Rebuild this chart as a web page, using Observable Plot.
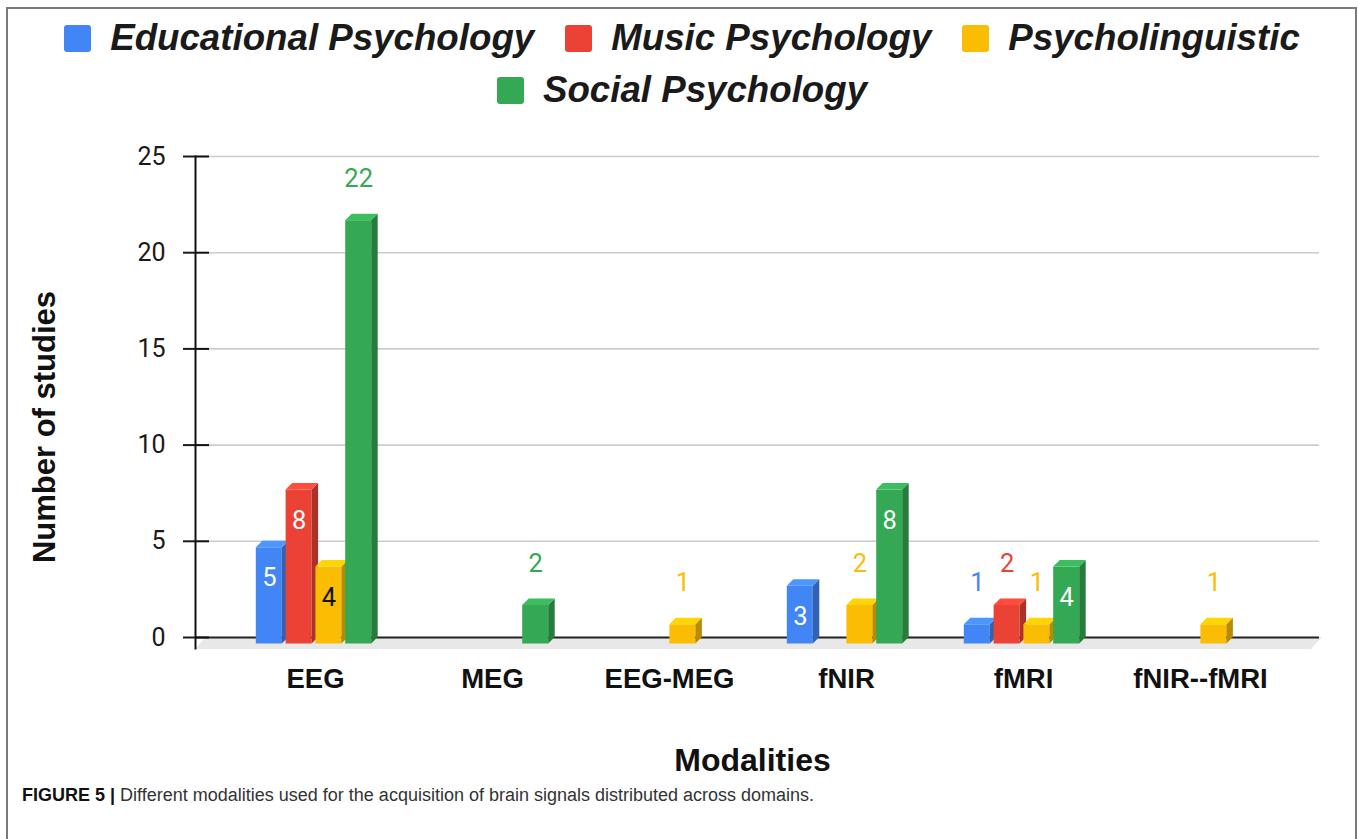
<!DOCTYPE html>
<html>
<head>
<meta charset="utf-8">
<script src="https://cdn.jsdelivr.net/npm/d3@7"></script>
<script src="https://cdn.jsdelivr.net/npm/@observablehq/plot@0.6"></script>
<style>
  body { margin: 0; background: #fff; }
  #wrap { position: relative; width: 1358px; height: 839px; overflow: hidden; font-family: "Liberation Sans", Arial, sans-serif; }
  #border { position: absolute; left: 6px; top: 7px; width: 1351px; height: 900px; border: 2px solid #7a7a7a; box-sizing: border-box; }
  #legend { position: absolute; left: 8px; top: 12px; width: 1348px; }
  .row { display: flex; justify-content: center; align-items: center; height: 52px; }
  .item { display: flex; align-items: center; margin: 0 15.5px; }
  .sw { width: 27px; height: 27px; border-radius: 3px; margin-right: 19px; }
  .lab { font-size: 36.7px; font-weight: bold; font-style: italic; color: #1a1a1a; line-height: 52px; white-space: nowrap; }
  #chart { position: absolute; left: 0; top: 120px; }
  #caption { position: absolute; left: 22px; top: 785px; font-size: 18px; color: #333; white-space: nowrap; }
  #caption b { color: #111; }
</style>
</head>
<body>
<div id="wrap">
  <div id="border"></div>
  <div id="legend"></div>
  <div id="chart"></div>
  <div id="caption"><b>FIGURE 5 |</b> Different modalities used for the acquisition of brain signals distributed across domains.</div>
</div>
<script>
const categories = ["EEG", "MEG", "EEG-MEG", "fNIR", "fMRI", "fNIR--fMRI"];
const seriesNames = ["Educational Psychology", "Music Psychology", "Psycholinguistic", "Social Psychology"];
const educational = [5, 0, 0, 3, 1, 0];
const music = [8, 0, 0, 0, 2, 0];
const psycholinguistic = [4, 0, 1, 2, 1, 1];
const social = [22, 2, 0, 8, 4, 0];
const colors = ["#4285F4", "#EA4335", "#FBBC04", "#34A853"];
const yTicks = [0, 5, 10, 15, 20, 25];

const seriesValues = [educational, music, psycholinguistic, social];

// legend (HTML, above the SVG)
const rows = [[0, 1, 2], [3]];
const legend = document.getElementById("legend");
rows.forEach(r => {
  const row = document.createElement("div");
  row.className = "row";
  r.forEach(i => {
    const it = document.createElement("div");
    it.className = "item";
    it.innerHTML = `<div class="sw" style="background:${colors[i]}"></div><div class="lab">${seriesNames[i]}</div>`;
    row.appendChild(it);
  });
  legend.appendChild(row);
});

const D = 6.5;      // depth of the 3D effect
const slot = 29.8;  // distance between bars in a group
const inside = v => v >= 3 && v < 20;

const marks = [
  Plot.ruleY(yTicks.filter(t => t > 0), {stroke: "#cccccc", strokeWidth: 1.6}),
  Plot.ruleY([0], {stroke: "#222", strokeWidth: 2}),
  Plot.frame({anchor: "left", stroke: "#111", strokeWidth: 2, insetBottom: -11}),
  Plot.axisY({ticks: yTicks, tickSize: 12, tickPadding: 18, fontSize: 25, fontFamily: "Roboto", color: "#1a1a1a", strokeWidth: 2, label: null}),
  Plot.tickY(yTicks, {y: d => d, insetRight: 1110, stroke: "#111", strokeWidth: 2})
];

const data = seriesValues.map((vals, i) =>
  categories.map((c, j) => ({cat: c, v: vals[j], s: i})).filter(d => d.v > 0)
);

data.forEach((rows, i) => {
  const off = (i - 1.5) * slot - 1.5;
  marks.push(Plot.barY(rows, {x: "cat", y1: 0, y2: "v", fill: colors[i], dx: off, dy: D}));
});
data.forEach((rows, i) => {
  const off = (i - 1.5) * slot - 1.5;
  marks.push(Plot.text(rows.filter(d => inside(d.v)), {
    x: "cat", y: "v", text: d => String(d.v), dx: off, dy: 37,
    fill: i === 2 ? "#111" : "#ffffff", fontSize: 25.5, fontFamily: "Roboto"
  }));
  marks.push(Plot.text(rows.filter(d => !inside(d.v)), {
    x: "cat", y: "v", text: d => String(d.v), dx: off, dy: -35.5,
    fill: colors[i], fontSize: 25.5, fontFamily: "Roboto"
  }));
});

marks.push(Plot.text(categories, {x: d => d, frameAnchor: "bottom", dy: 50, fontSize: 27.5, fontWeight: "bold", fontFamily: "Liberation Sans", fill: "#111"}));
marks.push(Plot.text(["Modalities"], {frameAnchor: "bottom", dx: -5, dy: 133, fontSize: 32, fontWeight: "bold", fontFamily: "Liberation Sans", fill: "#111"}));
marks.push(Plot.text(["Number of studies"], {frameAnchor: "left", textAnchor: "middle", rotate: -90, dx: -150, dy: 30, fontSize: 31, fontWeight: "bold", fontFamily: "Liberation Sans", fill: "#111"}));

const plot = Plot.plot({
  width: 1358,
  height: 660,
  marginLeft: 195,
  marginRight: 39,
  marginTop: 36,
  marginBottom: 143,
  style: {fontFamily: "Roboto", background: "transparent", overflow: "visible"},
  x: {type: "band", domain: categories, paddingInner: 0.8547, paddingOuter: 0.592, align: 0.5, axis: null},
  y: {domain: [0, 25], axis: null},
  marks
});
document.getElementById("chart").appendChild(plot);

// 3D faces derived from the rendered bars
const ns = "http://www.w3.org/2000/svg";
const svgSel = d3.select(plot.tagName.toLowerCase() === "svg" ? plot : plot.querySelector("svg"));
svgSel.selectAll('g[aria-label="bar"]').each(function (_, i) {
  const base = d3.color(colors[i]);
  const side = base.darker(0.85).formatHex();
  const top = base.brighter(0.35).formatHex();
  d3.select(this).selectAll("rect").nodes().forEach(r => {
    const x = +r.getAttribute("x"), y = +r.getAttribute("y");
    const w = +r.getAttribute("width"), h = +r.getAttribute("height");
    const s = document.createElementNS(ns, "path");
    s.setAttribute("d", `M${x + w},${y}L${x + w + D},${y - D}L${x + w + D},${y + h - D}L${x + w},${y + h}Z`);
    s.setAttribute("fill", side);
    const t = document.createElementNS(ns, "path");
    t.setAttribute("d", `M${x},${y}L${x + D},${y - D}L${x + w + D},${y - D}L${x + w},${y}Z`);
    t.setAttribute("fill", top);
    r.after(s);
    s.after(t);
  });
});
// floor
const xs = plot.scale("x").range, y0 = plot.scale("y").apply(0);
const floor = document.createElementNS(ns, "path");
floor.setAttribute("d", `M${xs[0] + 11},${y0}L${xs[1] + 3},${y0}L${xs[1] - 8},${y0 + 12}L${xs[0]},${y0 + 12}Z`);
floor.setAttribute("fill", "#e8e8e8");
const svgNode = svgSel.node();
const firstG = svgNode.querySelector("g");
svgNode.insertBefore(floor, firstG);
</script>
</body>
</html>
